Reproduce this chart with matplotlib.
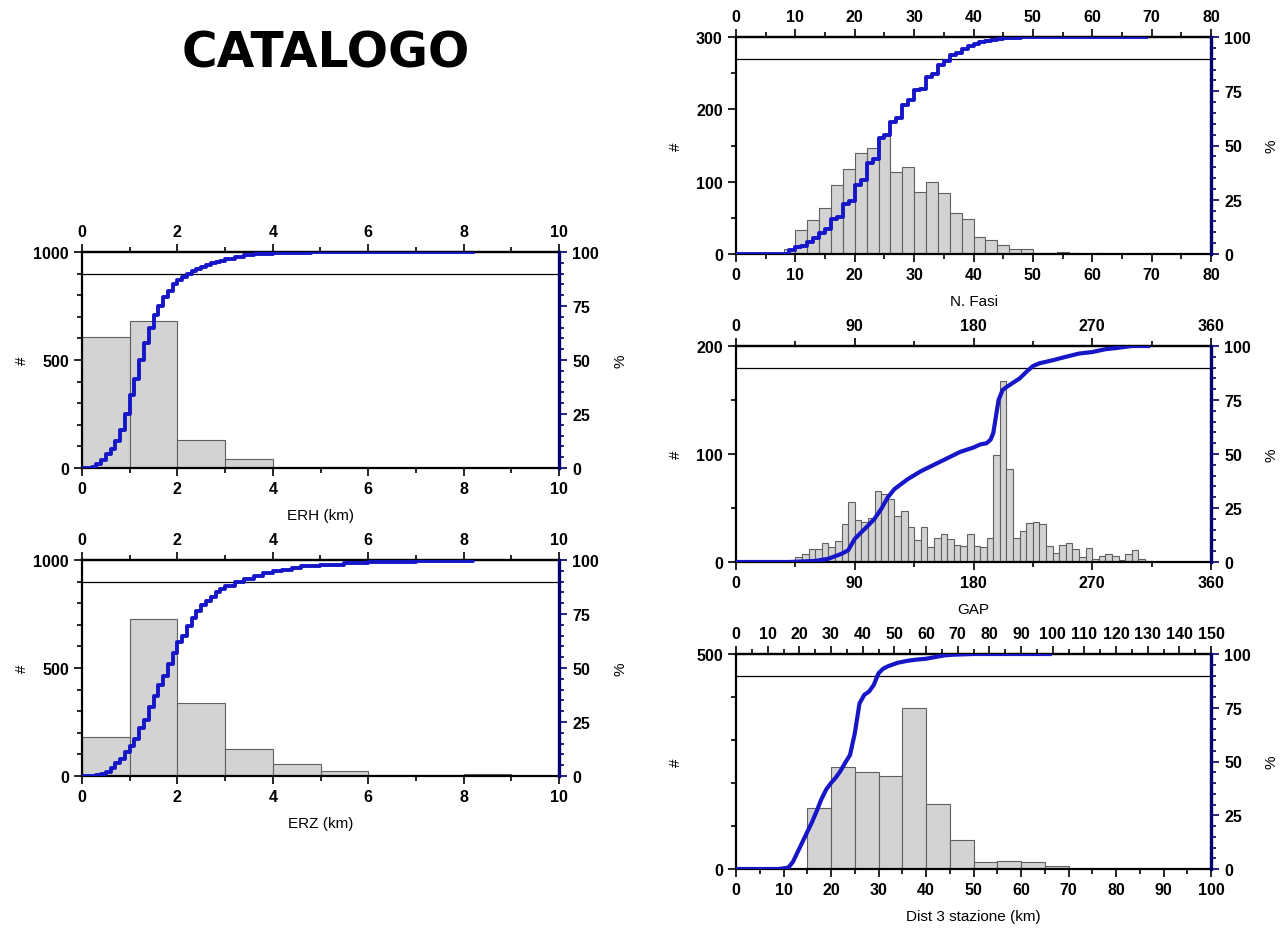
import numpy as np
import matplotlib
matplotlib.use('Agg')
import matplotlib.pyplot as plt
from matplotlib.ticker import MultipleLocator

plt.rcParams['font.family'] = ['Liberation Sans', 'DejaVu Sans']

# istogrammi (conteggi per classe) e curve cumulative (%)
erh_edges = [0, 1, 2, 3, 4, 5, 6, 7, 8, 9, 10]
erh_counts = [605, 680, 130, 40, 2, 5, 0, 0, 0, 0]
erh_cum_x = [0, 0.2, 0.3, 0.4, 0.5, 0.6, 0.7, 0.8, 0.9, 1.0, 1.1, 1.2, 1.3, 1.4, 1.5,
             1.6, 1.7, 1.8, 1.9, 2.0, 2.1, 2.2, 2.3, 2.4, 2.5, 2.6, 2.7, 2.8, 2.9,
             3.0, 3.2, 3.4, 3.6, 4.0, 4.8, 8.2]
erh_cum_pct = [0, 0.5, 1.7, 3.7, 6.3, 8.6, 12.5, 17.6, 25, 34, 41, 50, 58, 65, 71,
               75, 79, 82, 85, 87, 88.5, 90, 91, 92, 93, 94, 94.8, 95.5, 96,
               96.6, 97.5, 98.5, 99.2, 99.6, 99.8, 100]

erz_edges = [0, 1, 2, 3, 4, 5, 6, 7, 8, 9, 10]
erz_counts = [180, 725, 340, 125, 55, 25, 5, 5, 7, 0]
erz_cum_x = [0, 0.3, 0.4, 0.5, 0.6, 0.7, 0.8, 0.9, 1.0, 1.1, 1.2, 1.3, 1.4, 1.5,
             1.6, 1.7, 1.8, 1.9, 2.0, 2.1, 2.2, 2.3, 2.4, 2.5, 2.6, 2.7, 2.8,
             2.9, 3.0, 3.2, 3.4, 3.6, 3.8, 4.0, 4.2, 4.4, 4.6, 5.0, 5.5, 6.0,
             7.0, 8.2]
erz_cum_pct = [0, 0.5, 1, 2, 3.5, 6, 8, 11, 14, 17, 22, 26, 32, 37,
               42, 46.5, 52, 57, 62, 65, 69.5, 73, 76.5, 79, 81, 83, 85,
               86.6, 87.8, 89.7, 91.2, 92.7, 93.8, 94.8, 95.5, 96.3, 97, 97.8, 98.6, 99,
               99.4, 100]

fasi_edges = [8, 10, 12, 14, 16, 18, 20, 22, 24, 26, 28, 30, 32, 34, 36, 38, 40,
              42, 44, 46, 48, 50, 52, 54, 56, 58, 60, 62]
fasi_counts = [7, 33, 47, 63, 95, 118, 139, 146, 163, 114, 120, 86, 100, 84, 56,
               49, 23, 19, 12, 7, 7, 1, 1, 3, 1, 0.5, 1]
fasi_cum_x = [0, 8, 9, 10, 11, 12, 13, 14, 15, 16, 17, 18, 19, 20, 21, 22, 23, 24,
              25, 26, 27, 28, 29, 30, 31, 32, 33, 34, 35, 36, 37, 38, 39, 40, 41,
              42, 43, 44, 45, 46, 48, 49, 69]
fasi_cum_pct = [0, 0, 1.8, 3, 3.7, 5.4, 7.2, 9.5, 11.5, 16, 17, 23, 24.5, 32, 34, 42,
                44, 53.5, 55, 61, 62.6, 68.5, 71, 75.7, 76, 81.4, 83, 87, 88.8, 91.8,
                92.6, 94.6, 96, 96.8, 97.7, 98.3, 98.8, 99.2, 99.5, 99.7, 99.8, 100, 100]

gap_edges = [45, 50, 55, 60, 65, 70, 75, 80, 85, 90, 95, 100, 105, 110, 115, 120,
             125, 130, 135, 140, 145, 150, 155, 160, 165, 170, 175, 180, 185, 190,
             195, 200, 205, 210, 215, 220, 225, 230, 235, 240, 245, 250, 255, 260,
             265, 270, 275, 280, 285, 290, 295, 300, 305, 310, 315]
gap_counts = [5, 7, 12, 12, 18, 14, 19, 35, 56, 39, 37, 41, 66, 63, 58, 43, 47, 32,
              20, 32, 14, 22, 26, 21, 16, 15, 26, 15, 14, 22, 99, 168, 86, 22, 29,
              36, 37, 35, 15, 8, 16, 18, 12, 5, 13, 3, 6, 7, 6, 2, 7, 11, 3, 1]
gap_cum_x = [0, 40, 60, 70, 80, 85, 90, 95, 100, 105, 110, 115, 120, 125, 130, 140,
             150, 160, 170, 180, 185, 190, 193, 195, 197, 199, 202, 205, 210, 215,
             220, 225, 230, 240, 250, 260, 270, 280, 290, 300, 314]
gap_cum_pct = [0, 0, 0.5, 1.5, 3.8, 5.4, 10.7, 13.8, 16.8, 20, 24.5, 29.9, 33.7, 36,
               38.3, 42, 45, 48, 51, 53, 54.4, 55, 56.7, 59.7, 67.4, 75, 79.6, 81,
               83, 85, 88, 90.7, 92, 93.4, 95, 96.5, 97.2, 98.5, 99.2, 100, 100]

dist_edges = [15, 20, 25, 30, 35, 40, 45, 50, 55, 60, 65, 70]
dist_counts = [143, 237, 225, 217, 375, 152, 67, 16, 19, 16, 8]
dist_cum_x = [0, 9, 11, 12, 13, 14, 15, 16, 17, 18, 19, 20, 21, 22, 23, 24, 25, 26,
              27, 28, 29, 30, 31, 32, 34, 36, 38, 40, 42, 44, 46, 50, 66.5]
dist_cum_pct = [0, 0, 0.6, 3.4, 8, 12.6, 17.2, 21.8, 27, 32.6, 37, 40, 42.5, 45.6,
                49.5, 53, 63, 77, 81, 82.5, 85.6, 91, 93.2, 94.3, 95.9, 96.8, 97.4,
                97.8, 98.6, 99.4, 99.7, 100, 100]

BLU = '#1616c8'
NAVY = '#00006e'
TS = 11.5

fig = plt.figure(figsize=(12.88, 9.29), dpi=100)
fig.text(0.253, 0.942, 'CATALOGO', fontsize=35, fontweight='bold',
         ha='center', va='center', family=['DejaVu Sans'])


def stile_tick(a, axis, color='k'):
    a.tick_params(axis=axis, which='both', direction='out', width=1.2,
                  labelsize=TS, color=color)
    a.tick_params(axis=axis, which='major', length=6)
    a.tick_params(axis=axis, which='minor', length=3.5)
    labs = a.get_xticklabels() if axis == 'x' else a.get_yticklabels()
    for lab in labs:
        lab.set_fontweight('bold')


def pannello(rect, edges, counts, cx, cp, xmax, xmaj, xmin, ymax, ymaj, ymin,
             xlabel, top_max=None, smooth=False):
    ax = fig.add_axes(rect)
    edges = np.asarray(edges, dtype=float)
    ax.bar(edges[:-1], counts, width=np.diff(edges), align='edge',
           color='#d3d3d3', edgecolor='#606060', linewidth=0.8, zorder=2)
    ax.set_xlim(0, xmax)
    ax.set_ylim(0, ymax)
    ax.xaxis.set_major_locator(MultipleLocator(xmaj))
    ax.xaxis.set_minor_locator(MultipleLocator(xmin))
    ax.yaxis.set_major_locator(MultipleLocator(ymaj))
    ax.yaxis.set_minor_locator(MultipleLocator(ymin))
    stile_tick(ax, 'x')
    stile_tick(ax, 'y')
    for s in ('left', 'bottom', 'top'):
        ax.spines[s].set_linewidth(1.6)
    ax.spines['right'].set_visible(False)
    ax.set_xlabel(xlabel, fontsize=11, va='center')
    ax.xaxis.set_label_coords(0.5, -0.218)
    ax.set_ylabel('#', fontsize=11, va='center')
    ax.yaxis.set_label_coords(-0.126, 0.5)

    # asse superiore (la y di twiny resta nascosta)
    top = ax.twiny()
    top.set_xlim(0, top_max or xmax)
    top.xaxis.set_major_locator(MultipleLocator(xmaj))
    top.xaxis.set_minor_locator(MultipleLocator(xmin))
    stile_tick(top, 'x')
    top.spines['top'].set_linewidth(1.6)
    for s in ('left', 'bottom', 'right'):
        top.spines[s].set_visible(False)

    # asse percentuale
    ax2 = ax.twinx()
    ax2.set_ylim(0, 100)
    ax2.set_xlim(0, xmax)
    ax2.yaxis.set_major_locator(MultipleLocator(25))
    ax2.yaxis.set_minor_locator(MultipleLocator(5))
    stile_tick(ax2, 'y', color=NAVY)
    ax2.spines['right'].set_color(NAVY)
    ax2.spines['right'].set_linewidth(2.4)
    for s in ('left', 'bottom', 'top'):
        ax2.spines[s].set_visible(False)
    ax2.set_ylabel('%', fontsize=11, va='center')
    ax2.yaxis.set_label_coords(1.128, 0.5)
    ax2.axhline(90, color='k', lw=0.9, zorder=1)
    if smooth:
        ax2.plot(cx, cp, color=BLU, lw=3, solid_capstyle='butt', zorder=3)
    else:
        ax2.step(cx, cp, where='post', color=BLU, lw=2.8, zorder=3)
    return ax


W, H = 1288, 929


def rect(x0, x1, ytop, ybot):
    return [x0 / W, (H - ybot) / H, (x1 - x0) / W, (ybot - ytop) / H]


pannello(rect(82, 559, 253, 469), erh_edges, erh_counts, erh_cum_x, erh_cum_pct,
         10, 2, 1, 1000, 500, 100, 'ERH (km)')
pannello(rect(82, 559, 561, 777), erz_edges, erz_counts, erz_cum_x, erz_cum_pct,
         10, 2, 1, 1000, 500, 100, 'ERZ (km)')
pannello(rect(736, 1211, 38, 255), fasi_edges, fasi_counts, fasi_cum_x, fasi_cum_pct,
         80, 10, 5, 300, 100, 50, 'N. Fasi')
pannello(rect(736, 1211, 347, 563), gap_edges, gap_counts, gap_cum_x, gap_cum_pct,
         360, 90, 45, 200, 100, 50, 'GAP', smooth=True)
pannello(rect(736, 1211, 655, 870), dist_edges, dist_counts, dist_cum_x, dist_cum_pct,
         100, 10, 5, 500, 500, 100, 'Dist 3 stazione (km)', top_max=150, smooth=True)

fig.savefig('out.png', dpi=100)
